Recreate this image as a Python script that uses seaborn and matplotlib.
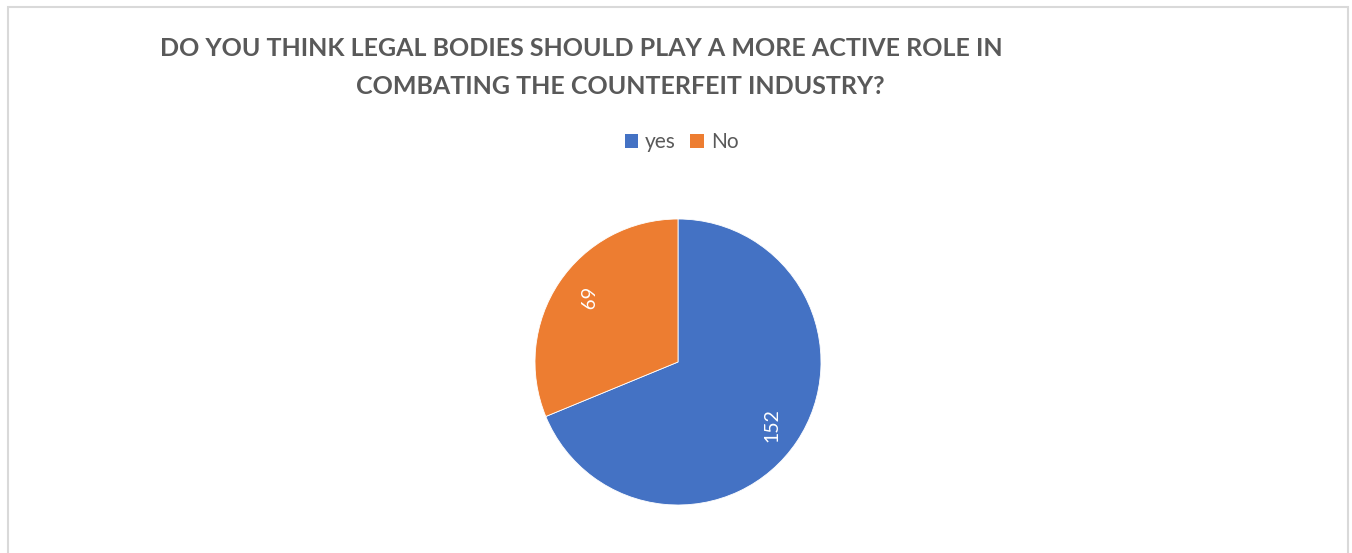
import matplotlib
matplotlib.use("Agg")
import matplotlib.pyplot as plt
from matplotlib.patches import Rectangle, Patch
import seaborn as sns

# Survey responses
categories = ["yes", "No"]
counts = [152, 69]
title_lines = [
    "DO YOU THINK LEGAL BODIES SHOULD PLAY A MORE ACTIVE ROLE IN",
    "COMBATING THE COUNTERFEIT INDUSTRY?",
]

sns.set_theme(style="white")
plt.rcParams["font.family"] = ["Lato", "DejaVu Sans"]

colors = ["#4472C4", "#ED7D31"]
text_gray = "#595959"

W, H = 1352, 553
fig = plt.figure(figsize=(W / 100, H / 100), dpi=100)

# Chart-area border (open at the bottom edge of the canvas)
fig.patches.append(Rectangle((7.5 / W, -0.05), (1348 - 7.5) / W, 1.05 - 7.5 / H,
                             transform=fig.transFigure, fill=False,
                             edgecolor="#D9D9D9", linewidth=1.5))

# Pie axes: centre at (678, 362) px, radius 143 px
cx, cy, r = 678, 362, 143
ax = fig.add_axes([(cx - r) / W, (H - cy - r) / H, 2 * r / W, 2 * r / H])
wedges, texts = ax.pie(
    counts,
    labels=[str(c) for c in counts],
    colors=colors,
    startangle=90,
    counterclock=False,
    labeldistance=0.79,
    wedgeprops=dict(linewidth=0.6, edgecolor="white"),
    textprops=dict(color="white", fontsize=14),
)
for t, rot in zip(texts, [90, -90]):
    t.set_rotation(rot)
    t.set_ha("center")
    t.set_va("center")
ax.set_xlim(-1, 1)
ax.set_ylim(-1, 1)
ax.set_aspect("equal")
ax.axis("off")

# Title (two lines)
fig.text(581 / W, 1 - 49 / H, title_lines[0], ha="center", va="center",
         fontsize=18, fontweight="bold", color=text_gray)
fig.text(620 / W, 1 - 86 / H, title_lines[1], ha="center", va="center",
         fontsize=18, fontweight="bold", color=text_gray)

# Legend
handles = [Patch(facecolor=c, edgecolor="none") for c in colors]
fig.legend(handles, categories, loc="center", bbox_to_anchor=(681.5 / W, 1 - 142 / H),
           ncol=2, frameon=False, fontsize=15, labelcolor=text_gray,
           handlelength=0.66, handleheight=0.66, handletextpad=0.32,
           columnspacing=0.7, borderpad=0.0)

fig.savefig("out.png", dpi=100, facecolor="white")
